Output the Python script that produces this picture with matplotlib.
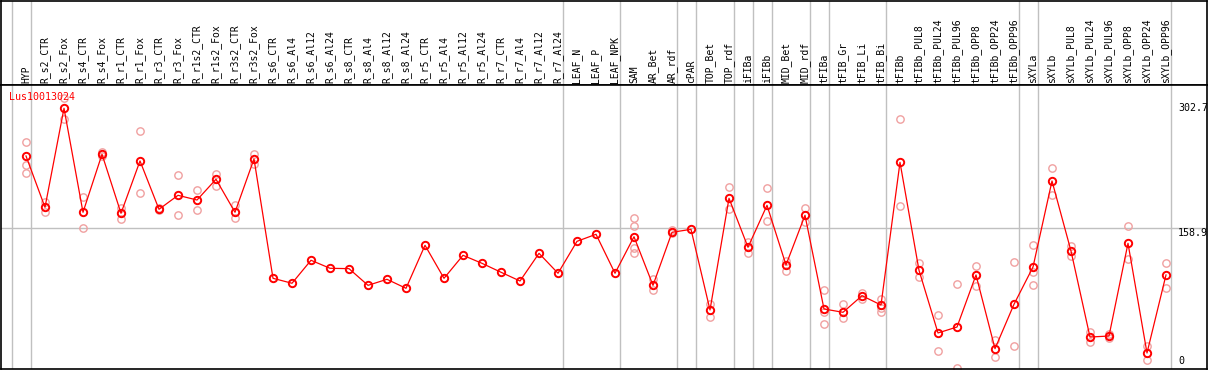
import numpy
import matplotlib
matplotlib.use('Agg')
import matplotlib.pyplot as plt

gene_name = 'Lus10013024'

categories = ['HYP', 'R_s2_CTR', 'R_s2_Fox', 'R_s4_CTR', 'R_s4_Fox', 'R_r1_CTR', 'R_r1_Fox',
              'R_r3_CTR', 'R_r3_Fox', 'R_r1s2_CTR', 'R_r1s2_Fox', 'R_r3s2_CTR', 'R_r3s2_Fox',
              'R_s6_CTR', 'R_s6_Al4', 'R_s6_Al12', 'R_s6_Al24', 'R_s8_CTR', 'R_s8_Al4',
              'R_s8_Al12', 'R_s8_Al24', 'R_r5_CTR', 'R_r5_Al4', 'R_r5_Al12', 'R_r5_Al24',
              'R_r7_CTR', 'R_r7_Al4', 'R_r7_Al12', 'R_r7_Al24', 'LEAF_N', 'LEAF_P', 'LEAF_NPK',
              'SAM', 'AR_Bet', 'AR_rdf', 'cPAR', 'TOP_Bet', 'TOP_rdf', 'iFIBa', 'iFIBb',
              'MID_Bet', 'MID_rdf', 'tFIBa', 'tFIB_Gr', 'tFIB_Li', 'tFIB_Bi', 'tFIBb',
              'tFIBb_PUL8', 'tFIBb_PUL24', 'tFIBb_PUL96', 'tFIBb_OPP8', 'tFIBb_OPP24',
              'tFIBb_OPP96', 'sXYLa', 'sXYLb', 'sXYLb_PUL8', 'sXYLb_PUL24', 'sXYLb_PUL96',
              'sXYLb_OPP8', 'sXYLb_OPP24', 'sXYLb_OPP96']

means = [238.7, 181.8, 291.6, 176.3, 240.6, 175.2, 233.2, 179.6, 195.1, 189.9, 212.9, 176.3, 235.4,
         103.1, 97.6, 123.1, 114.2, 113.8, 95.3, 102.0, 92.0, 139.7, 103.1, 128.6, 119.7,
         109.8, 100.1, 130.8, 108.7, 144.1, 151.9, 108.7,
         149.2, 95.3, 154.1, 157.4, 68.0, 191.8, 137.5, 184.0, 117.9, 173.0,
         69.1, 65.4, 83.8, 73.5, 231.7, 112.0, 42.5, 49.1, 106.8, 25.1, 74.3,
         115.6, 211.0, 133.4, 38.0, 39.1, 141.9, 20.3, 106.8]

replicates = [
    [253.9, 228.7, 219.5], [187.7, 176.3], [302.7, 279.4], [193.6, 158.9], [243.1, 238.7],
    [180.7, 169.2], [266.8, 197.3], [180.7, 178.8], [217.3, 173.0], [200.7, 178.5],
    [218.7, 205.8], [184.4, 169.6], [240.9, 229.8],
    [], [], [], [], [], [], [], [], [], [], [], [], [], [], [], [], [], [], [],
    [169.6, 161.4, 137.0, 131.5], [102.0, 90.1], [156.7, 153.0], [], [74.6, 60.5],
    [204.3, 179.6], [143.7, 130.8], [202.9, 166.3], [122.6, 111.5], [180.7, 165.9],
    [90.1, 66.1, 52.4], [74.6, 58.8], [87.1, 79.8], [79.8, 69.8, 66.1], [279.4, 183.3],
    [120.1, 104.2], [62.1, 22.2], [96.5, 3.3], [116.4, 94.9], [34.7, 15.9], [120.8, 28.0],
    [140.0, 110.4, 95.3], [225.1, 195.1], [138.6, 127.5], [43.6, 32.8], [41.7, 36.6],
    [161.1, 124.2], [27.7, 12.2], [120.1, 92.0],
]

# y values that get a label on the right side, and the reference line
scale_max = 302.7
scale_mid = 158.9

# group separators sit just after these category numbers (0 = before the first)
separators = [0, 1, 29, 32, 35, 36, 38, 39, 40, 42, 43, 46, 53, 54, 61]

grey = '#c0c0c0'
red = '#ff0000'
pink = '#f0a0a0'
mono = 'DejaVu Sans Mono'

fig = plt.figure(figsize=(12.09, 3.70), dpi=100)
ax_lab = fig.add_axes([1 / 1209, 285 / 370, 1206 / 1209, 84.5 / 370])
ax = fig.add_axes([1 / 1209, 1 / 370, 1206 / 1209, 284 / 370])

x_values = numpy.arange(1, len(categories) + 1)
xlim = (-0.316, 63.158)
for a in (ax, ax_lab):
    a.set_xlim(*xlim)
    a.set_xticks([])
    a.set_yticks([])
    for s in a.spines.values():
        s.set_linewidth(1.2)
        s.set_color('black')
    for sep in separators:
        a.axvline(sep + 0.24, color=grey, lw=1.0, zorder=0)

ax_lab.set_ylim(0, 1)
for x, name in zip(x_values, categories):
    ax_lab.text(x, 0.025, name, rotation=90, ha='center', va='bottom',
                fontsize=7, family=mono, color='black')

ax.set_ylim(2.55, 317.4)
ax.axhline(scale_mid, color=grey, lw=1.0, zorder=0)

for x, reps in zip(x_values, replicates):
    if reps:
        ax.plot([x] * len(reps), reps, linestyle='none', marker='o', ms=5.3,
                mfc='none', mec=pink, mew=1.0, zorder=2, clip_on=False)

ax.plot(x_values, means, color=red, lw=0.9, zorder=3)
ax.plot(x_values, means, linestyle='none', marker='o', ms=5.3, mfc='none',
        mec=red, mew=1.4, zorder=4)

ax.text(0.007, 0.958, gene_name, transform=ax.transAxes, ha='left', va='center',
        fontsize=7.2, family=mono, color=red)

label_x = 61.63
ax.annotate('%.1f' % scale_max, xy=(label_x, scale_max), xytext=(0, -5),
            textcoords='offset pixels', ha='left', va='top', fontsize=7.2, family=mono)
ax.annotate('%.1f' % scale_mid, xy=(label_x, scale_mid), xytext=(0, 0),
            textcoords='offset pixels', ha='left', va='top', fontsize=7.2, family=mono)
ax.annotate('0', xy=(label_x, 0), xytext=(0, 10), textcoords='offset pixels',
            ha='left', va='center', fontsize=7.2, family=mono, annotation_clip=False)

plt.savefig('out.png', dpi=100)
